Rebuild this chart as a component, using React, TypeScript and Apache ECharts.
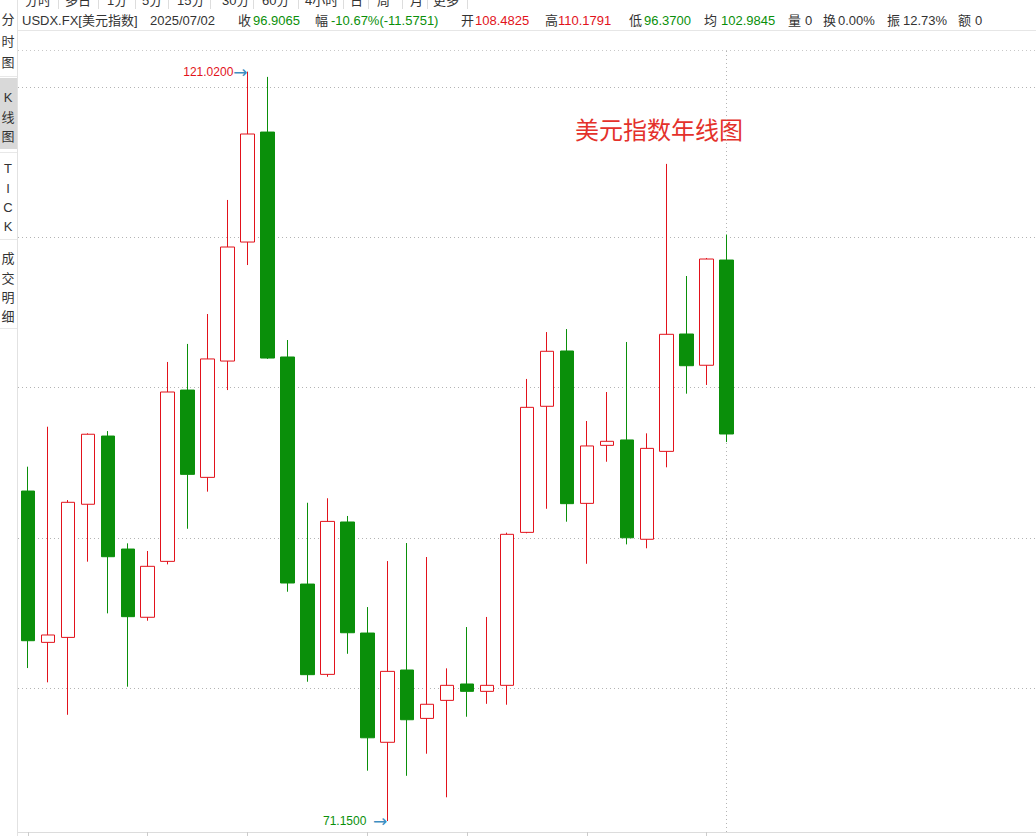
import React, { useEffect, useRef } from "react";
import * as echarts from "echarts";

// ---- Data (yearly USDX candles) ----
const years = [
  "1990","1991","1992","1993","1994","1995","1996","1997","1998","1999",
  "2000","2001","2002","2003","2004","2005","2006","2007","2008","2009",
  "2010","2011","2012","2013","2014","2015","2016","2017","2018","2019",
  "2020","2021","2022","2023","2024","2025",
];
const opens = [
  93.11, 83.04, 83.37, 92.23, 96.77, 89.25, 84.71, 88.43, 99.83, 94.02,
  101.76, 109.68, 117.0, 102.03, 86.92, 80.91, 91.05, 83.66, 76.39, 81.2,
  77.98, 79.18, 80.27, 79.78, 80.18, 90.36, 98.75, 102.43, 92.29, 96.15,
  96.51, 89.9, 95.75, 103.56, 101.48, 108.4825,
];
const closes = [
  83.15, 83.53, 92.36, 96.89, 88.74, 84.75, 88.1, 99.7, 94.22, 101.9,
  109.35, 116.87, 101.96, 86.99, 80.89, 91.09, 83.68, 76.69, 81.11, 77.89,
  78.92, 80.18, 79.78, 80.18, 90.23, 98.68, 102.41, 92.27, 96.11, 96.42,
  90.0, 95.95, 103.54, 101.45, 108.55, 96.9065,
];
const lows = [
  81.33, 80.38, 78.22, 88.41, 84.97, 80.09, 84.48, 88.23, 90.6, 93.07,
  99.83, 108.15, 101.9, 86.41, 80.42, 80.75, 82.28, 74.5, 71.15, 74.16,
  75.63, 72.73, 78.09, 78.95, 78.89, 90.3, 91.93, 91.07, 88.27, 95.06,
  89.56, 89.3, 94.69, 99.59, 100.17, 96.37,
];
const highs = [
  94.73, 97.39, 92.51, 96.95, 97.1, 89.63, 89.12, 101.7, 102.9, 104.89,
  112.48, 121.02, 120.67, 103.16, 92.33, 92.63, 91.45, 85.39, 88.45, 89.65,
  88.72, 81.31, 84.06, 84.73, 90.34, 100.57, 103.69, 103.89, 97.77, 99.7,
  103.03, 96.95, 114.88, 107.42, 108.62, 110.1791,
];
const gridValues = [80, 90, 100, 110, 120];
const tickYears = ["1990", "1996", "2001", "2007", "2012", "2018", "2024"];

const headerItems: [string, string][] = [
  ["收", "96.9065"],
  ["幅", "-10.67%(-11.5751)"],
  ["开", "108.4825"],
  ["高", "110.1791"],
  ["低", "96.3700"],
  ["均", "102.9845"],
  ["量", "0"],
  ["换", "0.00%"],
  ["振", "12.73%"],
  ["额", "0"],
];
const toolbarItems = ["分时", "多日", "1分", "5分", "15分", "30分", "60分", "4小时", "日", "周", "月", "更多"];
const sideGroups = [["分", "时", "图"], ["K", "线", "图"], ["T", "I", "C", "K"], ["成", "交", "明", "细"]];

const GREEN = "#0a8f0a";
const RED = "#e2121b";
const TXT = "#333333";
const FONT = '"Liberation Sans", "Noto Sans CJK SC", sans-serif';

export default function App() {
  const ref = useRef<HTMLDivElement>(null);

  useEffect(() => {
    if (!ref.current) return;
    const chart = echarts.init(ref.current, null, { renderer: "svg" });

    const candleData = years.map((_, i) => [opens[i], closes[i], lows[i], highs[i]]);
    let hiIdx = 0;
    let loIdx = 0;
    highs.forEach((h, i) => { if (h > highs[hiIdx]) hiIdx = i; });
    lows.forEach((l, i) => { if (l < lows[loIdx]) loIdx = i; });

    const graphics: any[] = [];
    // toolbar (cut off at the top, as in the source screenshot)
    const tbX = [25, 65, 107, 142, 177, 222, 262, 305, 350, 377, 410, 433];
    const tbSep = [58, 98, 135, 168, 210, 253, 298, 343, 368, 402, 427, 467];
    toolbarItems.forEach((t, i) => {
      graphics.push({ type: "text", x: tbX[i], y: 0, style: { text: t, fill: TXT, fontSize: 13, fontFamily: FONT, textAlign: "left", textVerticalAlign: "middle" } });
    });
    tbSep.forEach((sx) => {
      graphics.push({ type: "line", shape: { x1: sx + 0.5, y1: 0, x2: sx + 0.5, y2: 9 }, style: { stroke: "#dddddd", lineWidth: 1 } });
    });

    // header line
    graphics.push({ type: "text", x: 22, y: 20, style: { text: "USDX.FX[美元指数]", fill: TXT, fontSize: 13, fontFamily: FONT, textVerticalAlign: "middle" } });
    graphics.push({ type: "text", x: 150, y: 20, style: { text: "2025/07/02", fill: TXT, fontSize: 13, fontFamily: FONT, textVerticalAlign: "middle" } });
    const hLabelX = [238, 315, 461, 545, 629, 704, 788, 823, 887, 958];
    const hValX = [253, 331, 475, 558, 644, 721, 805, 838, 903, 975];
    const hColors = [GREEN, GREEN, RED, RED, GREEN, GREEN, TXT, TXT, TXT, TXT];
    headerItems.forEach(([lab, val], i) => {
      graphics.push({ type: "text", x: hLabelX[i], y: 20, style: { text: lab, fill: TXT, fontSize: 13, fontFamily: FONT, textVerticalAlign: "middle" } });
      graphics.push({ type: "text", x: hValX[i], y: 20, style: { text: val, fill: hColors[i], fontSize: 13, fontFamily: FONT, textVerticalAlign: "middle" } });
    });
    graphics.push({ type: "line", shape: { x1: 18, y1: 30.5, x2: 1036, y2: 30.5 }, style: { stroke: "#e6e6e6", lineWidth: 1 } });
    graphics.push({ type: "line", shape: { x1: 18, y1: 50.5, x2: 1036, y2: 50.5 }, style: { stroke: "#c8c8c8", lineWidth: 1, lineDash: [1, 3] } });

    // sidebar
    graphics.push({ type: "rect", shape: { x: 0, y: 78, width: 17, height: 71 }, style: { fill: "#d9d9d9" } });
    const sideY = [[19, 41, 62], [97, 117, 136], [168, 188, 207, 226], [258, 278, 297, 316]];
    sideGroups.forEach((g, gi) => {
      g.forEach((ch, ci) => {
        graphics.push({ type: "text", x: 8, y: sideY[gi][ci], style: { text: ch, fill: TXT, fontSize: 13, fontFamily: FONT, textAlign: "center", textVerticalAlign: "middle" } });
      });
    });
    [76, 152, 239, 328].forEach((ly) => {
      graphics.push({ type: "line", shape: { x1: 0, y1: ly + 0.5, x2: 17, y2: ly + 0.5 }, style: { stroke: "#e8e8e8", lineWidth: 1 } });
    });
    graphics.push({ type: "line", shape: { x1: 17.5, y1: 0, x2: 17.5, y2: 836 }, style: { stroke: "#e2e2e2", lineWidth: 1 } });

    // title
    graphics.push({ type: "text", x: 659, y: 128, style: { text: "美元指数年线图", fill: "#e4312b", fontSize: 24, fontFamily: '"Noto Sans CJK SC", sans-serif', textAlign: "center", textVerticalAlign: "middle" } });

    const tickSet = new Set(tickYears);

    const option: any = {
      animation: false,
      backgroundColor: "#ffffff",
      grid: { left: 18, top: 50, width: 1020, height: 782, show: false },
      xAxis: {
        type: "category",
        data: years,
        max: 50,
        boundaryGap: true,
        axisLine: { show: true, lineStyle: { color: "#dcdcdc" } },
        axisTick: {
          show: true,
          alignWithLabel: true,
          length: 5,
          interval: (_i: number, v: string) => tickSet.has(v),
          lineStyle: { color: "#cccccc" },
        },
        axisLabel: { show: false },
        splitLine: { show: false },
      },
      yAxis: {
        type: "value",
        min: 70.42,
        max: 122.46,
        axisLine: { show: false },
        axisTick: { show: false },
        axisLabel: { show: false },
        splitLine: { show: false },
      },
      graphic: graphics,
      series: [
        {
          type: "candlestick",
          z: 5,
          data: candleData,
          barWidth: 14,
          itemStyle: {
            color: "#ffffff",
            color0: GREEN,
            borderColor: RED,
            borderColor0: GREEN,
            borderWidth: 1,
          },
          markLine: {
            silent: true,
            z: 1,
            symbol: ["none", "none"],
            label: { show: false },
            lineStyle: { color: "#b4b4b4", type: [1, 3], width: 1 },
            data: [
              ...gridValues.map((v) => ({ yAxis: v })),
              { xAxis: years[years.length - 1] },
            ],
          },
          markPoint: {
            symbol: "circle",
            symbolSize: 0,
            silent: true,
            data: [
              {
                coord: [years[hiIdx], highs[hiIdx]],
                value: highs[hiIdx],
                label: {
                  show: true,
                  position: "left",
                  distance: 0,
                  formatter: "{v|" + highs[hiIdx].toFixed(4) + "}{a|→}",
                  rich: {
                    v: { color: RED, fontSize: 12, fontFamily: FONT },
                    a: { color: "#3d8ec2", fontSize: 17, fontFamily: '"DejaVu Sans", sans-serif' },
                  },
                },
              },
              {
                coord: [years[loIdx], lows[loIdx]],
                value: lows[loIdx],
                label: {
                  show: true,
                  position: "left",
                  distance: 0,
                  formatter: "{v|" + lows[loIdx].toFixed(4) + "}  {a|→}",
                  rich: {
                    v: { color: GREEN, fontSize: 12, fontFamily: FONT },
                    a: { color: "#3d8ec2", fontSize: 17, fontFamily: '"DejaVu Sans", sans-serif' },
                  },
                },
              },
            ],
          },
        },
      ],
    };

    chart.setOption(option);
    return () => chart.dispose();
  }, []);

  return (
    <div
      ref={ref}
      style={{ position: "absolute", left: 0, top: 0, width: 1036, height: 836, background: "#fff" }}
    />
  );
}
